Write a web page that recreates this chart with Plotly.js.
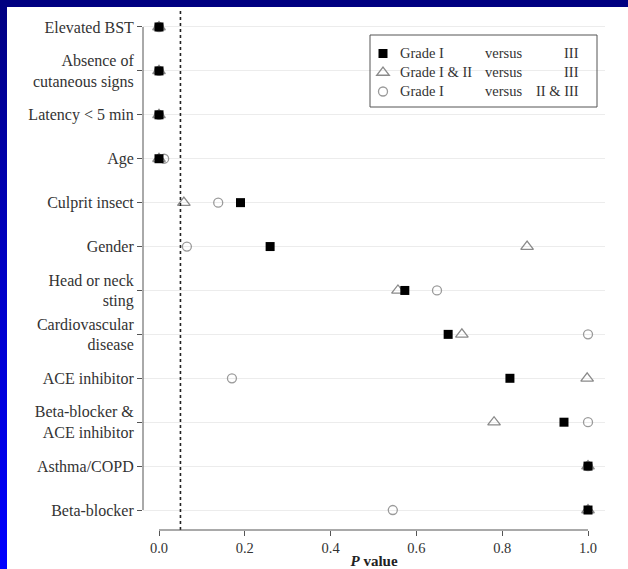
<!DOCTYPE html>
<html>
<head>
<meta charset="utf-8">
<script src="https://cdn.plot.ly/plotly-3.0.1.min.js"></script>
<style>
  html, body { margin: 0; padding: 0; width: 628px; height: 569px; overflow: hidden;
    background: linear-gradient(to bottom, #000080 0%, #0000c8 50%, #0000ff 100%); }
  #chart { position: absolute; left: 7px; top: 7px; width: 621px; height: 562px; background: #fff; }
</style>
</head>
<body>
<div id="chart"></div>
<script>
// ---- data ----
const categories = [
  'Elevated BST',
  'Absence of<br>cutaneous signs',
  'Latency &lt; 5 min',
  'Age',
  'Culprit insect',
  'Gender',
  'Head or neck<br>sting',
  'Cardiovascular<br>disease',
  'ACE inhibitor',
  'Beta-blocker &amp;<br>ACE inhibitor',
  'Asthma/COPD',
  'Beta-blocker'
];
const gradeIvsIII      = [0.0, 0.0, 0.0, 0.0, 0.190, 0.259, 0.573, 0.674, 0.818, 0.944, 1.0, 1.0];
const gradeIIIvsIII    = [0.0, 0.0, 0.0, 0.0, 0.058, 0.858, 0.557, 0.706, 0.998, 0.781, 1.0, 1.0];
const gradeIvsIIandIII = [0.0, 0.0, 0.0, 0.012, 0.138, 0.065, 0.648, 1.0, 0.170, 1.0, 1.0, 0.545];
const seriesNames = ['Grade I versus III', 'Grade I & II versus III', 'Grade I versus II & III'];
const legendLeft  = ['Grade I', 'Grade I &amp; II', 'Grade I'];
const legendMid   = ['versus', 'versus', 'versus'];
const legendRight = ['III', 'III', 'II &amp; III'];
const xTickVals = [0, 0.2, 0.4, 0.6, 0.8, 1.0];
const threshold = 0.05;

// ---- layout helpers (page px -> paper fraction) ----
const divLeft = 7, divTop = 7, divW = 621, divH = 562;
const mL = 136, mR = 23, mT = 3, mB = 39;
const plotW = divW - mL - mR, plotH = divH - mT - mB;
const px = x => (x - divLeft - mL) / plotW;
const py = y => (divTop + mT + plotH - y) / plotH;

const font = 'Liberation Serif, Times New Roman, serif';

// legend entries carry only the symbols; the three text columns are annotations
const traces = [
  { name: '', meta: seriesNames[2], x: gradeIvsIIandIII, y: categories, type: 'scatter', mode: 'markers',
    marker: { symbol: 'circle-open', size: 9, color: '#9a9a9a', line: { width: 1.3 } }, legendrank: 3 },
  { name: '', meta: seriesNames[1], x: gradeIIIvsIII, y: categories, type: 'scatter', mode: 'markers',
    marker: { symbol: 'triangle-up-open', size: 11, color: '#8a8a8a', line: { width: 1.3 } }, legendrank: 2 },
  { name: '', meta: seriesNames[0], x: gradeIvsIII, y: categories, type: 'scatter', mode: 'markers',
    marker: { symbol: 'square', size: 9, color: '#000' }, legendrank: 1 }
];

const legendRowsY = [53, 72, 91];
const annotations = [];
const legFont = { family: font, size: 14.5, color: '#333' };
for (let i = 0; i < 3; i++) {
  annotations.push({ xref: 'paper', yref: 'paper', x: px(398), y: py(legendRowsY[i]), xanchor: 'left', yanchor: 'middle',
    text: legendLeft[i], showarrow: false, font: legFont });
  annotations.push({ xref: 'paper', yref: 'paper', x: px(483), y: py(legendRowsY[i]), xanchor: 'left', yanchor: 'middle',
    text: legendMid[i], showarrow: false, font: legFont });
  annotations.push({ xref: 'paper', yref: 'paper', x: px(581), y: py(legendRowsY[i]), xanchor: 'right', yanchor: 'middle',
    text: legendRight[i], showarrow: false, font: legFont });
}

const layout = {
  width: divW, height: divH,
  margin: { l: mL, r: mR, t: mT, b: mB, pad: 0 },
  paper_bgcolor: '#fff', plot_bgcolor: '#fff',
  font: { family: font, size: 14, color: '#333' },
  showlegend: true,
  legend: { x: px(363), y: py(39), xanchor: 'left', yanchor: 'top', bgcolor: 'rgba(0,0,0,0)',
    borderwidth: 0, font: { family: font, size: 12, color: '#333' }, tracegroupgap: 0 },
  xaxis: {
    range: [-0.0373, 1.0396], tickvals: xTickVals, tickformat: '.1f',
    ticks: 'outside', ticklen: 5, tickcolor: '#555', showgrid: false, zeroline: false, showline: false,
    tickfont: { family: font, size: 14.5, color: '#333' },
    title: { text: '<b><i>P</i> value</b>', standoff: 3, font: { family: font, size: 15, color: '#222' } },
    automargin: false
  },
  yaxis: {
    type: 'category', categoryorder: 'array', categoryarray: categories,
    range: [11.455, -0.387],
    ticks: 'outside', ticklen: 5, tickcolor: '#555',
    showgrid: true, gridcolor: '#ececec', gridwidth: 1, zeroline: false, showline: false,
    tickfont: { family: font, size: 16, color: '#333' }, automargin: false
  },
  shapes: [
    { type: 'line', xref: 'x', yref: 'paper', x0: threshold, x1: threshold, y0: 0, y1: 1,
      line: { color: '#222', width: 1.6, dash: '3px,3px' } },
    { type: 'line', xref: 'x', yref: 'paper', x0: 0, x1: 1, y0: 0, y1: 0, line: { color: '#555', width: 1 } },
    { type: 'line', xref: 'paper', yref: 'y', x0: 0, x1: 0, y0: 0, y1: categories.length - 1, line: { color: '#555', width: 1 } },
    { type: 'rect', xref: 'paper', yref: 'paper', x0: px(370), x1: px(597), y0: py(35), y1: py(107),
      line: { color: '#555', width: 1 }, fillcolor: 'rgba(0,0,0,0)' }
  ],
  annotations: annotations
};

Plotly.newPlot('chart', traces, layout, { displayModeBar: false, staticPlot: true });
</script>
</body>
</html>
